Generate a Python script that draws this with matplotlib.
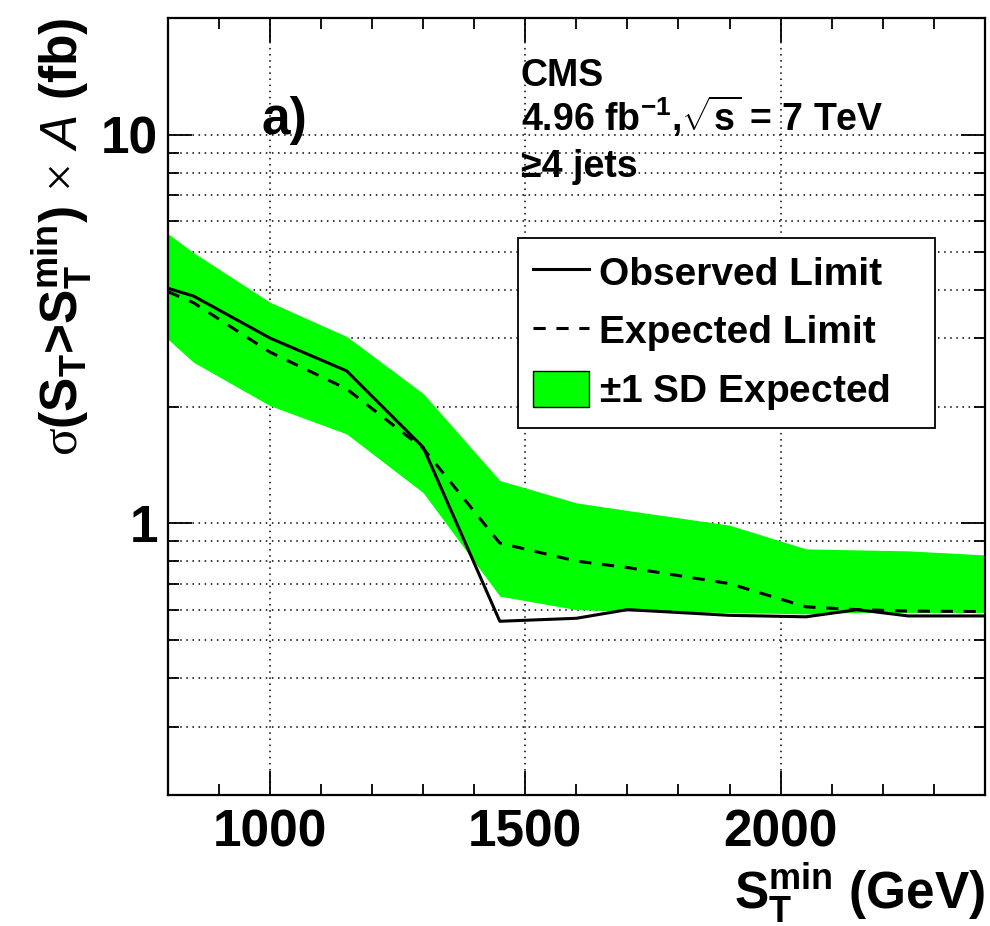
import matplotlib
matplotlib.use("Agg")
import matplotlib.pyplot as plt
from matplotlib.ticker import FixedLocator, NullFormatter, FixedFormatter

plt.rcParams['font.family'] = ['Liberation Sans', 'DejaVu Sans']
plt.rcParams['font.weight'] = 'bold'
plt.rcParams['mathtext.fontset'] = 'custom'
plt.rcParams['mathtext.rm'] = 'Liberation Sans:bold'
plt.rcParams['mathtext.bf'] = 'Liberation Sans:bold'
plt.rcParams['mathtext.it'] = 'Liberation Sans:style=italic:weight=normal'
plt.rcParams['mathtext.sf'] = 'Liberation Serif:weight=normal'

# Limits vs. S_T threshold (>=4 jets)
st_min = [800, 850, 1000, 1150, 1300, 1450, 1600, 1700, 1900, 2050, 2150, 2250, 2400]
observed = [4.03, 3.85, 3.0, 2.47, 1.57, 0.56, 0.57, 0.60, 0.58, 0.575, 0.60, 0.578, 0.578]
expected = [3.95, 3.7, 2.76, 2.22, 1.56, 0.89, 0.80, 0.77, 0.70, 0.61, 0.60, 0.595, 0.593]
band_lo = [2.98, 2.60, 2.01, 1.70, 1.20, 0.65, 0.60, 0.595, 0.59, 0.585, 0.59, 0.59, 0.59]
band_hi = [5.57, 4.98, 3.71, 3.03, 2.16, 1.29, 1.13, 1.08, 0.99, 0.86, 0.855, 0.85, 0.83]

fig = plt.figure(figsize=(9.9, 9.26), dpi=100)
ax = fig.add_axes([0.1697, 0.1415, 0.825, 0.839])

ax.fill_between(st_min, band_lo, band_hi, color='#00ff00', lw=0,
                label=r'$\pm$1 SD Expected', zorder=2)
ax.plot(st_min, observed, color='black', lw=2.2, label='Observed Limit', zorder=3)
ax.plot(st_min, expected, color='black', lw=2.2, ls=(0, (4, 3.5)),
        label='Expected Limit', zorder=3)

ax.set_yscale('log')
ax.set_xlim(800, 2400)
ax.set_ylim(0.2, 20)

# ticks
ax.xaxis.set_major_locator(FixedLocator([1000, 1500, 2000]))
ax.xaxis.set_minor_locator(FixedLocator(range(800, 2401, 100)))
ax.yaxis.set_major_locator(FixedLocator([1, 10]))
ax.yaxis.set_major_formatter(FixedFormatter(['1', '10']))
ymin = [v * d for d in (0.1, 1, 10) for v in range(2, 10) if 0.2 <= v * d <= 20]
ax.yaxis.set_minor_locator(FixedLocator(ymin))
ax.yaxis.set_minor_formatter(NullFormatter())
ax.tick_params(which='both', direction='in', top=True, right=True, width=1.3)
ax.tick_params(which='major', length=17, labelsize=37)
ax.tick_params(axis='y', which='major', pad=7)
ax.tick_params(axis='x', which='major', pad=10)
ax.tick_params(which='minor', length=8)
for lab in ax.get_xticklabels() + ax.get_yticklabels():
    lab.set_fontweight('bold')
for s in ax.spines.values():
    s.set_linewidth(1.6)

ax.grid(True, which='major', axis='x', color='black', ls=(0, (1, 3)), lw=1.1)
ax.grid(True, which='both', axis='y', color='black', ls=(0, (1, 3)), lw=1.1)
ax.set_axisbelow(True)

ax.set_xlabel(r'S$_\mathrm{T}^\mathrm{min}$ (GeV)', fontsize=37, fontweight='bold', loc='right')
ax.set_ylabel(r'$\mathsf{\sigma}$(S$_\mathrm{T}$>S$_\mathrm{T}^\mathrm{min}$) $\mathsf{\times}$ $A$ (fb)',
              fontsize=37, fontweight='bold', loc='top')
ax.yaxis.set_label_coords(-0.09, 1.0)
ax.xaxis.set_label_coords(1.0, -0.084)

ax.text(0.115, 0.851, 'a)', transform=ax.transAxes, fontsize=37, fontweight='bold')
ax.text(0.432, 0.912, 'CMS', transform=ax.transAxes, fontsize=27, fontweight='bold')
ax.text(0.432, 0.854, r'4.96 fb$^{-1}$,$\sqrt{\mathrm{s}}$ = 7 TeV',
        transform=ax.transAxes, fontsize=27, fontweight='bold')
ax.text(0.432, 0.796, '≥4 jets', transform=ax.transAxes, fontsize=27, fontweight='bold')

handles, labels = ax.get_legend_handles_labels()
order = [1, 2, 0]
leg = ax.legend([handles[i] for i in order], [labels[i] for i in order],
                loc='upper left', bbox_to_anchor=(0.428, 0.717, 0.511, 0.0),
                mode='expand', fontsize=28, frameon=True, fancybox=False,
                edgecolor='black', framealpha=1, handlelength=1.44,
                handleheight=1.03, handletextpad=0.26, labelspacing=0.51,
                borderpad=0.4, borderaxespad=0)
leg.get_frame().set_linewidth(1.3)
leg.legend_handles[2].set_edgecolor('black')
leg.legend_handles[2].set_linewidth(1.0)
for t in leg.get_texts():
    t.set_fontweight('bold')

fig.savefig('out.png', dpi=100)
